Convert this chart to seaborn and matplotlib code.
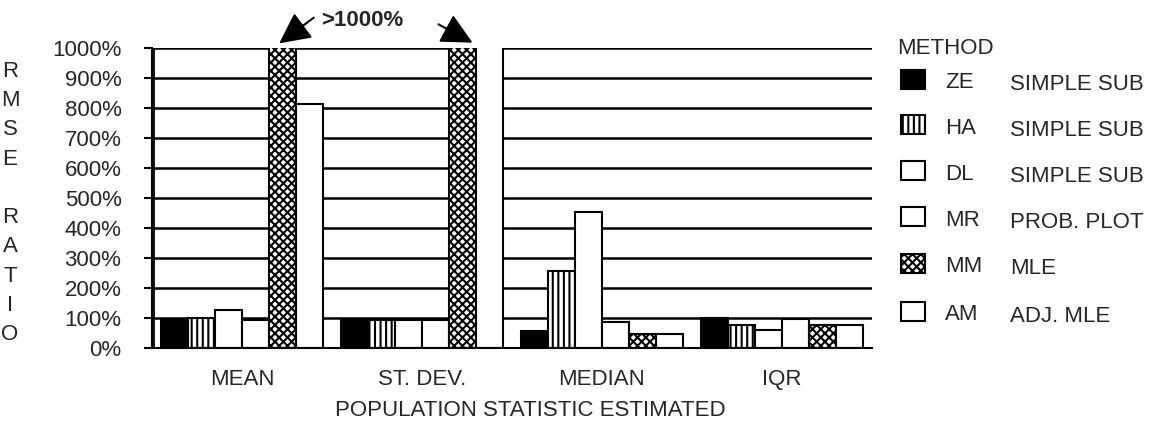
import matplotlib
matplotlib.use("Agg")
import matplotlib.pyplot as plt
from matplotlib.patches import Rectangle
import numpy as np
import pandas as pd
import seaborn as sns

# data (RMSE ratio, %), values > 1000% run off the scale
stats = ["MEAN", "ST. DEV.", "MEDIAN", "IQR"]
methods = ["ZE", "HA", "DL", "MR", "MM", "AM"]
method_desc = ["SIMPLE SUB", "SIMPLE SUB", "SIMPLE SUB", "PROB. PLOT", "MLE", "ADJ. MLE"]
mean_vals = [94, 100, 128, 92, 1100, 814]
sd_vals = [92, 92, 92, 92, 1100, 1100]
median_vals = [56, 258, 454, 86, 48, 47]
iqr_vals = [100, 78, 59, 97, 78, 76]

fills = ["black", "white", "white", "white", "white", "white"]
hatches = ["", "|||", "", "", "xxxx", ""]

rows = []
for stat, vals in zip(stats, [mean_vals, sd_vals, median_vals, iqr_vals]):
    for m, v in zip(methods, vals):
        rows.append({"stat": stat, "method": m, "rmse": v})
df = pd.DataFrame(rows)

sns.set_theme(style="white")
plt.rcParams["font.family"] = ["Liberation Sans", "DejaVu Sans"]
plt.rcParams["hatch.linewidth"] = 1.5
plt.rcParams["hatch.color"] = "black"
FS = 16

W, H = 1152, 424
fig = plt.figure(figsize=(W / 100, H / 100), dpi=100)
ax = fig.add_axes([152 / W, 1 - 348 / H, 720 / W, 300 / H])

sns.barplot(data=df, x="stat", y="rmse", hue="method", order=stats, hue_order=methods,
            palette=dict(zip(methods, fills)), width=0.9, edgecolor="black",
            linewidth=1.5, saturation=1, legend=False, ax=ax)
for cont, h in zip(ax.containers, hatches):
    for bar in cont:
        bar.set_hatch(h)

ax.set_xlim(-0.5, 3.5)
ax.set_ylim(0, 1000)
ax.set_yticks(np.arange(0, 1001, 100))
ax.set_yticklabels([f"{v}%" for v in range(0, 1001, 100)], fontsize=FS)
ax.set_xticks(range(4))
ax.set_xticklabels(stats, fontsize=FS)
ax.set_xticks(np.arange(-0.5, 4, 1), minor=True)
ax.tick_params(axis="x", which="major", length=0, pad=15)
ax.tick_params(axis="x", which="minor", length=6, width=1.5, direction="out", color="black")
ax.tick_params(axis="y", length=6, width=1.5, direction="out", color="black", pad=16, left=True)
ax.set_xlabel("POPULATION STATISTIC ESTIMATED", fontsize=FS)
ax.xaxis.set_label_coords((530 - 152) / 720, -0.175)
ax.set_ylabel("")

ax.set_axisbelow(True)
ax.yaxis.grid(True, color="black", linewidth=1.8)
ax.xaxis.grid(False)
for s in ["top", "right"]:
    ax.spines[s].set_visible(False)
for s in ["left", "bottom"]:
    ax.spines[s].set_color("black")
    ax.spines[s].set_linewidth(1.5)
ax.axvline(-0.488, color="black", linewidth=1.3, zorder=5)

# overlay in pixel coordinates for legend and notes
ov = fig.add_axes([0, 0, 1, 1], facecolor="none")
ov.set_xlim(0, W)
ov.set_ylim(H, 0)
ov.axis("off")

ov.text(10, 203, "R\nM\nS\nE\n\nR\nA\nT\nI\nO", fontsize=FS, ha="center", va="center",
        linespacing=1.52)

ov.text(362, 20, ">1000%", fontsize=FS, fontweight="bold", ha="center", va="center")
head = "-|>,head_length=1.6,head_width=0.8"
ov.annotate("", xy=(277, 45), xytext=(316, 16),
            arrowprops=dict(arrowstyle=head, color="black", lw=1.5))
ov.annotate("", xy=(475, 44), xytext=(436, 23),
            arrowprops=dict(arrowstyle=head, color="black", lw=1.5))

ov.text(897, 48, "METHOD", fontsize=FS, ha="left", va="center")
row_y = [79, 124, 170, 216, 263, 311]
for y, m, d, f, h in zip(row_y, methods, method_desc, fills, hatches):
    ov.add_patch(Rectangle((901, y - 9), 24, 19, facecolor=f, edgecolor="black",
                           linewidth=1.5, hatch=h))
    ov.text(945, y + 4, m, fontsize=FS, ha="left", va="center")
    ov.text(1010, y + 6, d, fontsize=FS, ha="left", va="center")

fig.savefig("out.png", dpi=100)
